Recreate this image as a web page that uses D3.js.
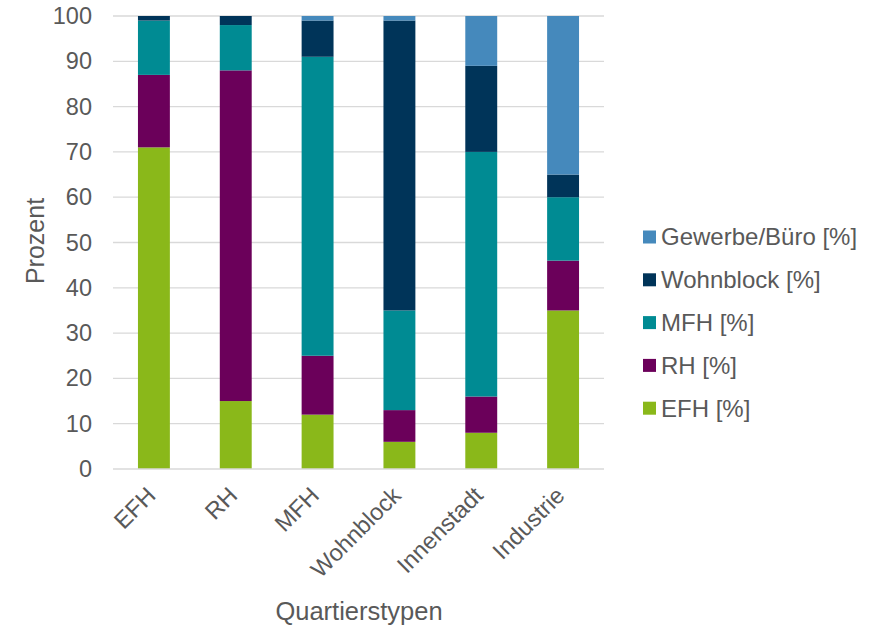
<!DOCTYPE html>
<html>
<head>
<meta charset="utf-8">
<script src="https://cdn.jsdelivr.net/npm/d3@7"></script>
<style>
  body { margin: 0; background: #fff; }
  text { font-family: "Liberation Sans", Arial, sans-serif; }
</style>
</head>
<body>
<svg id="chart" width="873" height="627"></svg>
<script>
// Building-type shares per district type (percent)
const categories = ["EFH", "RH", "MFH", "Wohnblock", "Innenstadt", "Industrie"];
const seriesNames = ["EFH [%]", "RH [%]", "MFH [%]", "Wohnblock [%]", "Gewerbe/Büro [%]"];
const efh       = [71, 15, 12, 6, 8, 35];
const rh        = [16, 73, 13, 7, 8, 11];
const mfh       = [12, 10, 66, 22, 54, 14];
const wohnblock = [1, 2, 8, 64, 19, 5];
const gewerbe   = [0, 0, 1, 1, 11, 35];
const yTicks = [0, 10, 20, 30, 40, 50, 60, 70, 80, 90, 100];
const colors = ["#8ab81a", "#6b005a", "#008b93", "#003459", "#4589bc"];

(function () {
const seriesValues = [efh, rh, mfh, wohnblock, gewerbe];
const rows = categories.map((c, i) => {
  const r = { cat: c };
  seriesNames.forEach((s, j) => r[s] = seriesValues[j][i]);
  return r;
});

const svg = d3.select("#chart");
const plotLeft = 113, plotRight = 604, plotTop = 16, plotBottom = 469;
const textColor = "#595959";

const x = d3.scaleBand().domain(categories).range([plotLeft, plotRight])
  .paddingInner(0.61).paddingOuter(0.305);
const y = d3.scaleLinear().domain([0, 100]).range([plotBottom, plotTop]);
const color = d3.scaleOrdinal().domain(seriesNames).range(colors);

// horizontal gridlines
svg.append("g").selectAll("line").data(yTicks.slice(1)).join("line")
  .attr("x1", plotLeft).attr("x2", plotRight)
  .attr("y1", d => y(d)).attr("y2", d => y(d))
  .attr("stroke", "#d9d9d9").attr("stroke-width", 1.3);

const stack = d3.stack().keys(seriesNames)(rows);

svg.append("g").selectAll("g").data(stack).join("g")
  .attr("fill", d => color(d.key))
  .selectAll("rect").data(d => d).join("rect")
  .attr("x", d => x(d.data.cat))
  .attr("width", x.bandwidth())
  .attr("y", d => y(d[1]))
  .attr("height", d => y(d[0]) - y(d[1]));

// baseline
svg.append("line").attr("x1", plotLeft).attr("x2", plotRight)
  .attr("y1", y(0)).attr("y2", y(0))
  .attr("stroke", "#d9d9d9").attr("stroke-width", 1.3);

// y axis
const yAxis = d3.axisLeft(y).tickValues(yTicks).tickSize(0).tickPadding(0);
const gy = svg.append("g").attr("transform", `translate(${plotLeft - 21},0)`).call(yAxis);
gy.select(".domain").remove();
gy.selectAll("text").attr("font-size", 23.5).attr("fill", textColor)
  .attr("font-family", "Liberation Sans, Arial, sans-serif");

// x axis, rotated labels
const xAxis = d3.axisBottom(x).tickSize(0).tickPadding(0);
const gx = svg.append("g").attr("transform", `translate(0,${plotBottom})`).call(xAxis);
gx.select(".domain").remove();
gx.selectAll("text")
  .attr("font-size", 23.5).attr("fill", textColor)
  .attr("font-family", "Liberation Sans, Arial, sans-serif")
  .attr("text-anchor", "end")
  .attr("dy", 0)
  .attr("transform", "translate(3,28) rotate(-45)");

// axis titles
svg.append("text").attr("x", 359).attr("y", 620)
  .attr("text-anchor", "middle").attr("font-size", 25.5).attr("fill", textColor)
  .text("Quartierstypen");
svg.append("text")
  .attr("transform", `translate(44,241) rotate(-90)`)
  .attr("text-anchor", "middle").attr("font-size", 25).attr("fill", textColor)
  .text("Prozent");

// legend (top entry is last series)
const legendItems = seriesNames.slice().reverse();
const lg = svg.append("g").selectAll("g").data(legendItems).join("g")
  .attr("transform", (d, i) => `translate(643,${237 + i * 42.8})`);
lg.append("rect").attr("x", 0).attr("y", -6.5).attr("width", 13).attr("height", 13)
  .attr("fill", d => color(d));
lg.append("text").attr("x", 18).attr("y", 0).attr("dy", "0.35em")
  .attr("font-size", 24).attr("fill", textColor).text(d => d);
})();
</script>
</body>
</html>
